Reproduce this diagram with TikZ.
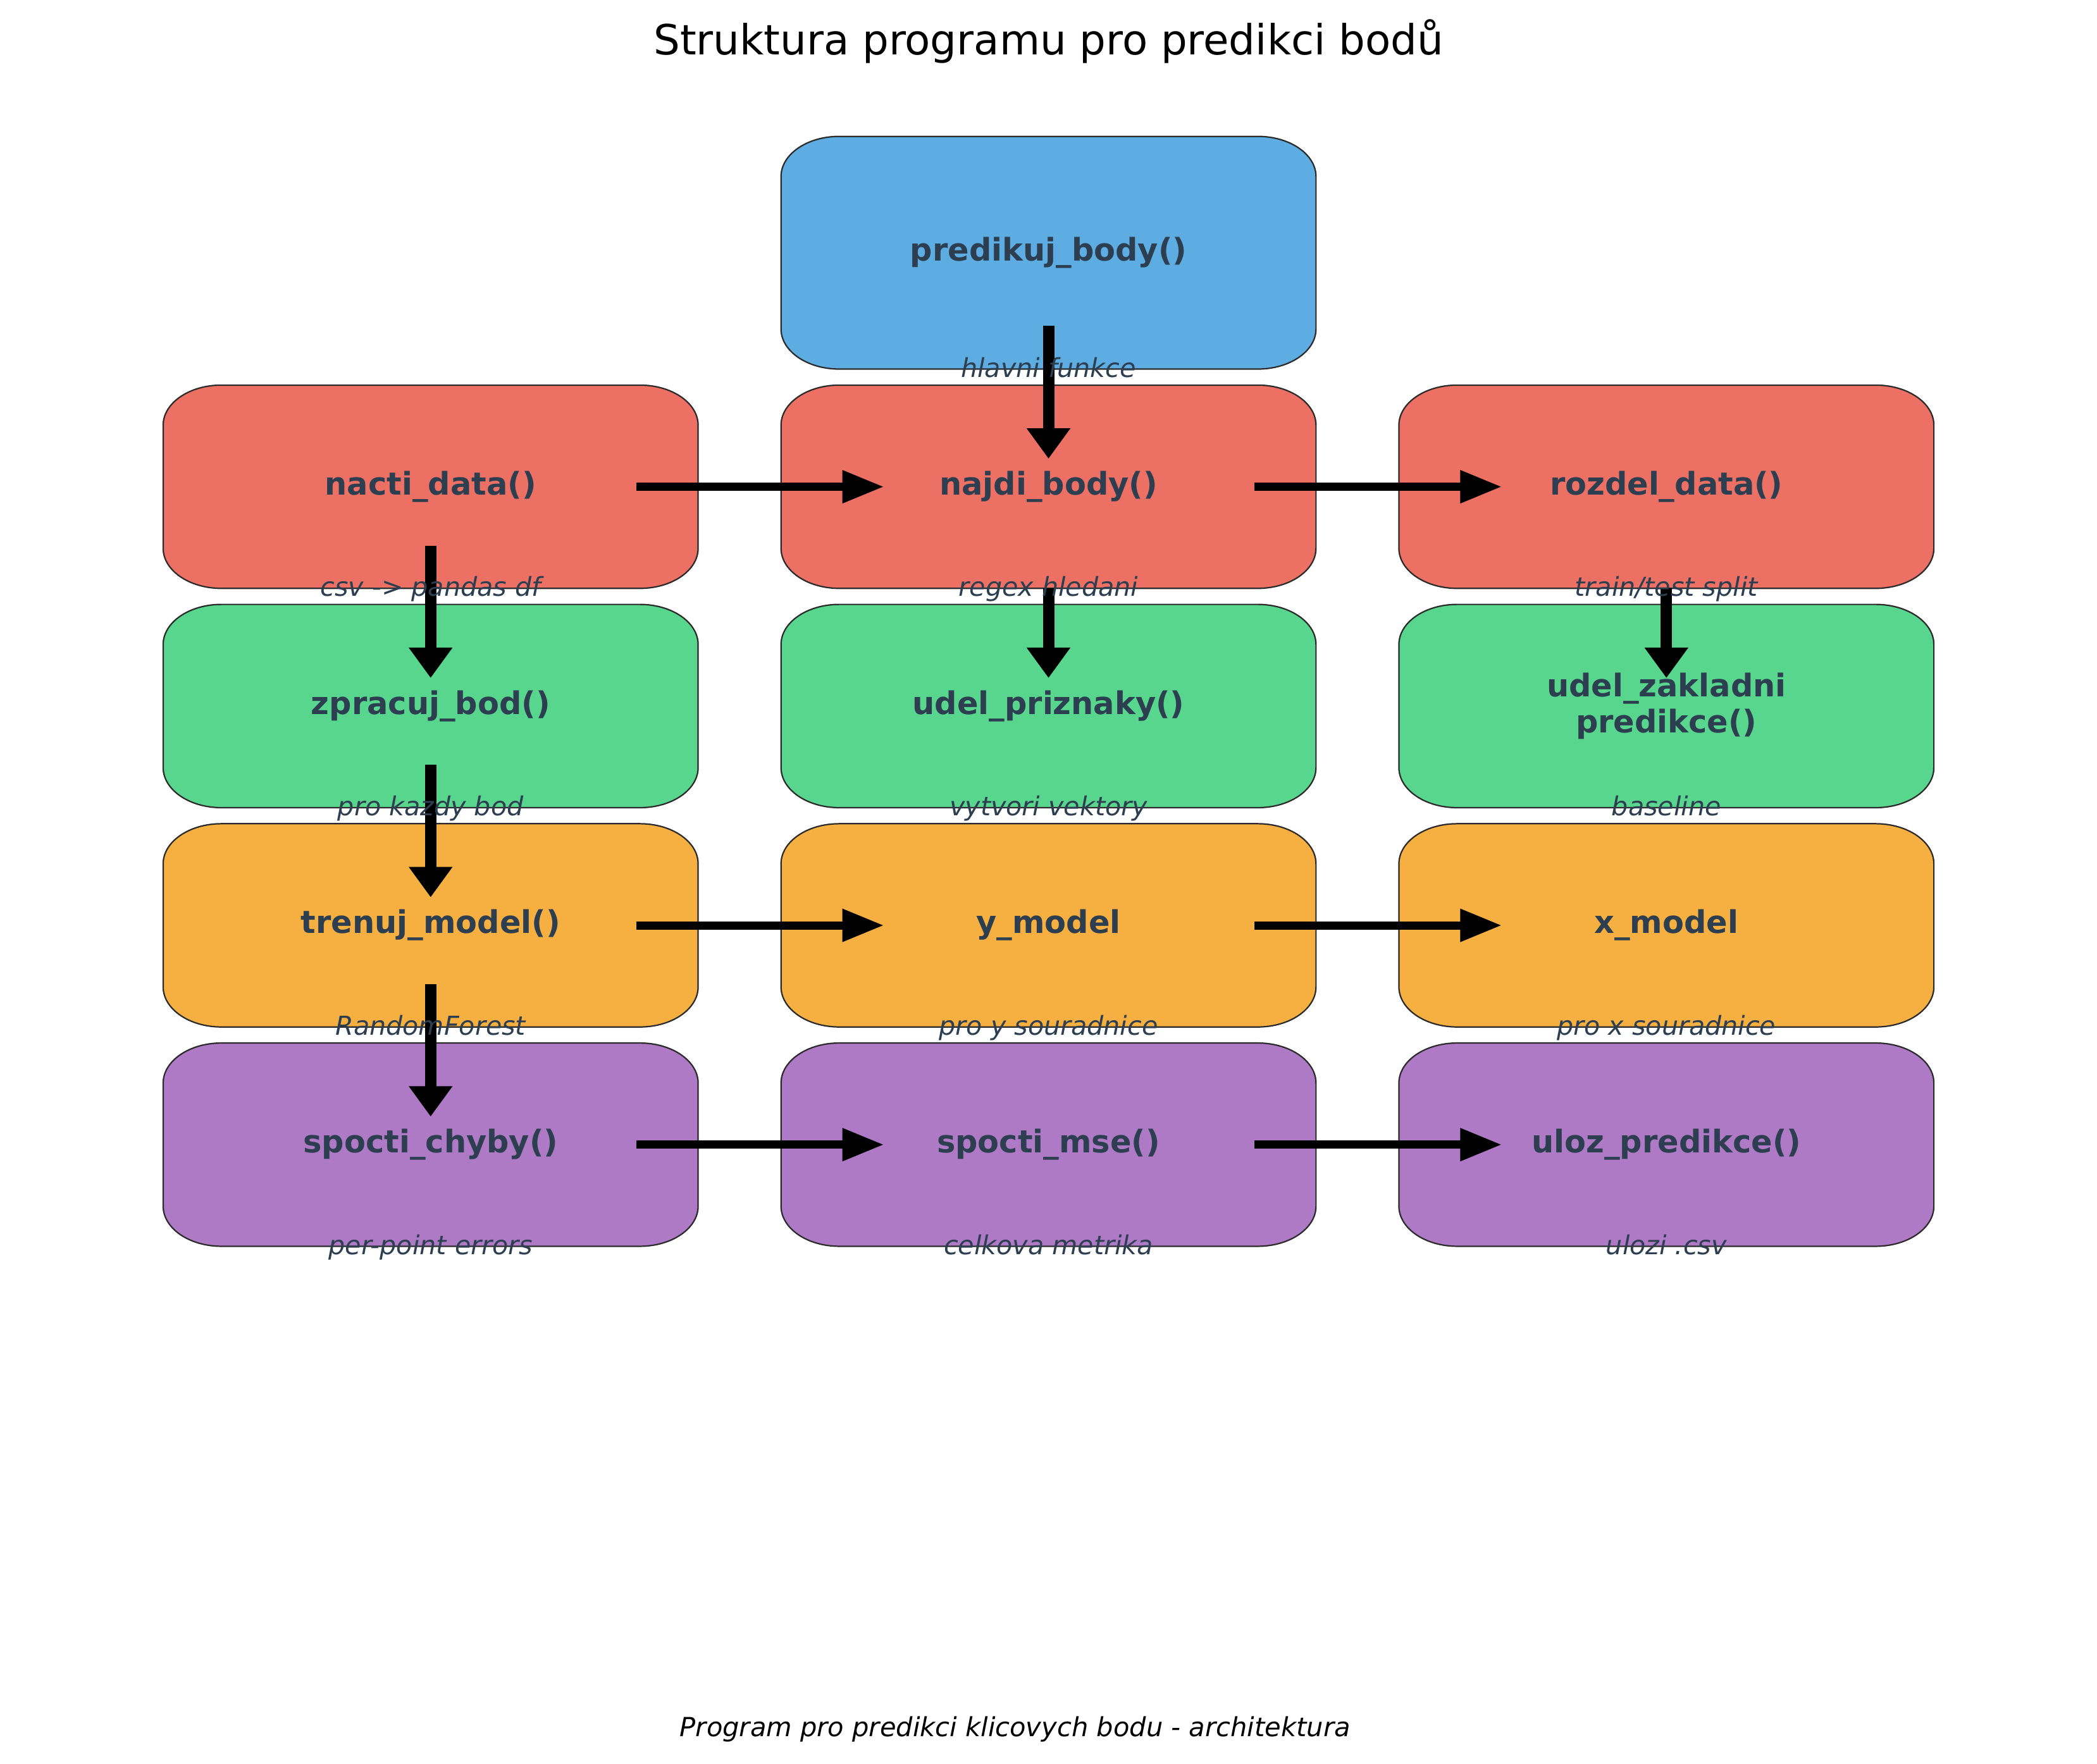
\documentclass[tikz,border=0pt]{standalone}
\usepackage{fontspec}
\setmainfont{DejaVu Sans}[BoldFont={DejaVu Sans Bold}, ItalicFont={DejaVu Sans Oblique}]
\usepackage{tikz}
\usetikzlibrary{arrows.meta}

\definecolor{modra}{HTML}{5DADE2}
\definecolor{cervena}{HTML}{EC7063}
\definecolor{zelena}{HTML}{58D68D}
\definecolor{oranzova}{HTML}{F5B041}
\definecolor{fialova}{HTML}{AF7AC5}
\definecolor{pismo}{HTML}{2C3E50}
\definecolor{okraj}{HTML}{2B2B2B}

\pgfdeclarelayer{pozadi}
\pgfsetlayers{pozadi,main}

% zaoblene rohy jsou elipticke (sirsi nez vyssi)
\newcommand{\rohX}{0.87cm}
\newcommand{\rohY}{0.6cm}
\newcommand{\zaoblenyBox}[2]{%
  \filldraw[fill=#2, draw=okraj, line width=0.6pt]
    ([xshift=\rohX]#1.north west) -- ([xshift=-\rohX]#1.north east)
    arc[start angle=90, end angle=0, x radius=\rohX, y radius=\rohY]
    -- ([yshift=\rohY]#1.south east)
    arc[start angle=0, end angle=-90, x radius=\rohX, y radius=\rohY]
    -- ([xshift=\rohX]#1.south west)
    arc[start angle=270, end angle=180, x radius=\rohX, y radius=\rohY]
    -- ([yshift=-\rohY]#1.north west)
    arc[start angle=180, end angle=90, x radius=\rohX, y radius=\rohY]
    -- cycle;}

\begin{document}
\begin{tikzpicture}[
    % krabice funkci, text tucne
    funkce/.style={rectangle, minimum width=8cm, minimum height=3.04cm, inner sep=0pt, outer sep=0pt,
                   align=center, text=pismo, font=\fontsize{13.3}{15.3}\selectfont\bfseries},
    % popisek pod krabici
    popis/.style={anchor=base, text=pismo, font=\fontsize{11.1}{13}\selectfont\itshape},
    % vodorovne a svisle sipky maji jinou tloustku
    sipkaVpravo/.style={-{Triangle[length=0.624cm, width=0.464cm]}, line width=0.123cm, black},
    sipkaDolu/.style={-{Triangle[length=0.454cm, width=0.624cm]}, line width=0.17cm, black}
]
    \useasboundingbox (0,0) rectangle (31.36,-26.38);

    % --- NADPIS ---
    \node[font=\fontsize{17.7}{21}\selectfont] (nadpis) at (15.68,-0.62) {Struktura programu pro predikci bodů};

    % --- KRABICE ---
    \node[funkce, minimum height=3.48cm] (predikuj) at (15.68,-3.78) {predikuj\_body()};

    \node[funkce] (nacti)   at (6.44,-7.28)  {nacti\_data()};
    \node[funkce] (najdi)   at (15.68,-7.28) {najdi\_body()};
    \node[funkce] (rozdel)  at (24.92,-7.28) {rozdel\_data()};

    \node[funkce] (zpracuj)   at (6.44,-10.56)  {zpracuj\_bod()};
    \node[funkce] (priznaky)  at (15.68,-10.56) {udel\_priznaky()};
    \node[funkce] (zakladni)  at (24.92,-10.56) {udel\_zakladni\\predikce()};

    \node[funkce] (trenuj)  at (6.44,-13.84)  {trenuj\_model()};
    \node[funkce] (ymodel)  at (15.68,-13.84) {y\_model};
    \node[funkce] (xmodel)  at (24.92,-13.84) {x\_model};

    \node[funkce] (chyby)   at (6.44,-17.12)  {spocti\_chyby()};
    \node[funkce] (mse)     at (15.68,-17.12) {spocti\_mse()};
    \node[funkce] (uloz)    at (24.92,-17.12) {uloz\_predikce()};

    \begin{pgfonlayer}{pozadi}
        \foreach \uzel/\barva in {predikuj/modra, nacti/cervena, najdi/cervena, rozdel/cervena,
                                  zpracuj/zelena, priznaky/zelena, zakladni/zelena,
                                  trenuj/oranzova, ymodel/oranzova, xmodel/oranzova,
                                  chyby/fialova, mse/fialova, uloz/fialova}
            {\zaoblenyBox{\uzel}{\barva}}
    \end{pgfonlayer}

    % --- SIPKY ---
    \draw[sipkaDolu] ([yshift=-1.09cm]predikuj.center) -- ([yshift=0.42cm]najdi.center);

    \draw[sipkaVpravo] ([xshift=3.08cm]nacti.center) -- ([xshift=-2.46cm]najdi.center);
    \draw[sipkaVpravo] ([xshift=3.08cm]najdi.center) -- ([xshift=-2.46cm]rozdel.center);

    \draw[sipkaDolu] ([yshift=-0.88cm]nacti.center) -- ([yshift=0.42cm]zpracuj.center);
    \draw[sipkaDolu] (najdi.south) -- ([yshift=0.42cm]priznaky.center);
    \draw[sipkaDolu] (rozdel.south) -- ([yshift=0.42cm]zakladni.center);

    \draw[sipkaDolu] ([yshift=-0.88cm]zpracuj.center) -- ([yshift=0.42cm]trenuj.center);

    \draw[sipkaVpravo] ([xshift=3.08cm]trenuj.center) -- ([xshift=-2.46cm]ymodel.center);
    \draw[sipkaVpravo] ([xshift=3.08cm]ymodel.center) -- ([xshift=-2.46cm]xmodel.center);

    \draw[sipkaDolu] ([yshift=-0.88cm]trenuj.center) -- ([yshift=0.42cm]chyby.center);

    \draw[sipkaVpravo] ([xshift=3.08cm]chyby.center) -- ([xshift=-2.46cm]mse.center);
    \draw[sipkaVpravo] ([xshift=3.08cm]mse.center) -- ([xshift=-2.46cm]uloz.center);

    % --- POPISKY ---
    \node[popis] (p_predikuj) at ([yshift=-0.12cm]predikuj.south) {hlavni funkce};
    \node[popis] (p_nacti)    at ([yshift=-0.12cm]nacti.south)    {csv -> pandas df};
    \node[popis] (p_najdi)    at ([yshift=-0.12cm]najdi.south)    {regex hledani};
    \node[popis] (p_rozdel)   at ([yshift=-0.12cm]rozdel.south)   {train/test split};
    \node[popis] (p_zpracuj)  at ([yshift=-0.12cm]zpracuj.south)  {pro kazdy bod};
    \node[popis] (p_priznaky) at ([yshift=-0.12cm]priznaky.south) {vytvori vektory};
    \node[popis] (p_zakladni) at ([yshift=-0.12cm]zakladni.south) {baseline};
    \node[popis] (p_trenuj)   at ([yshift=-0.12cm]trenuj.south)   {RandomForest};
    \node[popis] (p_ymodel)   at ([yshift=-0.12cm]ymodel.south)   {pro y souradnice};
    \node[popis] (p_xmodel)   at ([yshift=-0.12cm]xmodel.south)   {pro x souradnice};
    \node[popis] (p_chyby)    at ([yshift=-0.12cm]chyby.south)    {per-point errors};
    \node[popis] (p_mse)      at ([yshift=-0.12cm]mse.south)      {celkova metrika};
    \node[popis] (p_uloz)     at ([yshift=-0.12cm]uloz.south)     {ulozi .csv};

    % --- ZAPATI ---
    \node[font=\fontsize{11.2}{13}\selectfont\itshape] (zapati) at (15.18,-25.86)
        {Program pro predikci klicovych bodu - architektura};

\end{tikzpicture}
\end{document}
